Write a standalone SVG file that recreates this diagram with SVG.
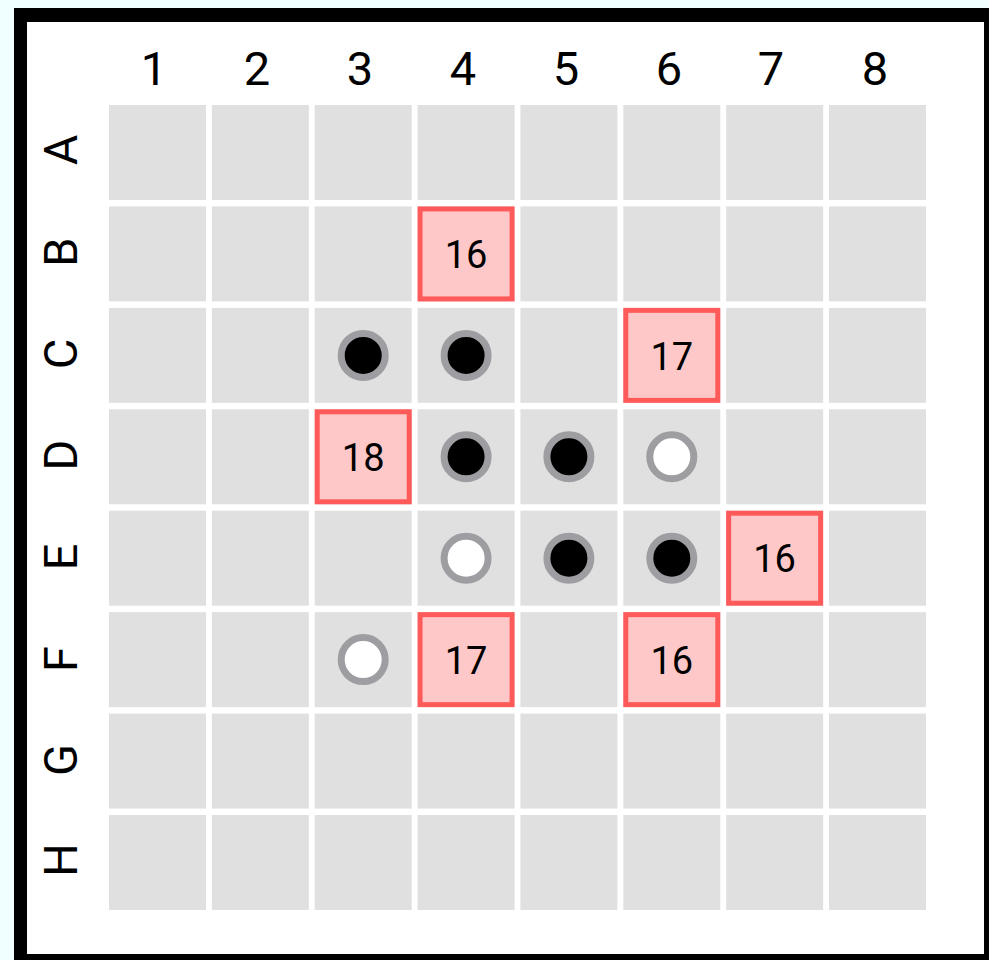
<svg xmlns="http://www.w3.org/2000/svg" width="989" height="960" viewBox="0 0 989 960">
<style>
.cell{fill:#e0e0e0}
.hit{fill:#ffc8c8;stroke:#ff5a5a;stroke-width:5}
.lbl{font-family:Roboto,"Liberation Sans",sans-serif;font-size:47px;fill:#000;text-anchor:middle;dominant-baseline:central}
.num{font-family:Roboto,"Liberation Sans",sans-serif;font-size:38px;fill:#000;text-anchor:middle;dominant-baseline:central}
.blk{fill:#000;stroke:#9e9ea2;stroke-width:7}
.wht{fill:#fff;stroke:#9e9ea2;stroke-width:7}
</style>
<rect x="0" y="0" width="989" height="960" fill="#f0ffff"/>
<rect x="14" y="8" width="975" height="952" fill="#000"/>
<rect x="27" y="22" width="957" height="932" fill="#fff"/>
<g id="col-labels">
<text class="lbl" x="154" y="68">1</text>
<text class="lbl" x="257" y="68">2</text>
<text class="lbl" x="360" y="68">3</text>
<text class="lbl" x="463" y="68">4</text>
<text class="lbl" x="566" y="68">5</text>
<text class="lbl" x="669" y="68">6</text>
<text class="lbl" x="771" y="68">7</text>
<text class="lbl" x="875" y="68">8</text>
</g>
<g id="row-labels">
<text class="lbl" transform="translate(60,150) rotate(-90)">A</text>
<text class="lbl" transform="translate(60,252) rotate(-90)">B</text>
<text class="lbl" transform="translate(60,354) rotate(-90)">C</text>
<text class="lbl" transform="translate(60,455) rotate(-90)">D</text>
<text class="lbl" transform="translate(60,557) rotate(-90)">E</text>
<text class="lbl" transform="translate(60,659) rotate(-90)">F</text>
<text class="lbl" transform="translate(60,760) rotate(-90)">G</text>
<text class="lbl" transform="translate(60,860) rotate(-90)">H</text>
</g>
<g id="grid">
<rect class="cell" x="109" y="105" width="97" height="95"/><rect class="cell" x="211.86" y="105" width="97" height="95"/><rect class="cell" x="314.71" y="105" width="97" height="95"/><rect class="cell" x="417.57" y="105" width="97" height="95"/><rect class="cell" x="520.43" y="105" width="97" height="95"/><rect class="cell" x="623.29" y="105" width="97" height="95"/><rect class="cell" x="726.14" y="105" width="97" height="95"/><rect class="cell" x="829" y="105" width="97" height="95"/>
<rect class="cell" x="109" y="206.43" width="97" height="95"/><rect class="cell" x="211.86" y="206.43" width="97" height="95"/><rect class="cell" x="314.71" y="206.43" width="97" height="95"/><rect class="cell" x="417.57" y="206.43" width="97" height="95"/><rect class="cell" x="520.43" y="206.43" width="97" height="95"/><rect class="cell" x="623.29" y="206.43" width="97" height="95"/><rect class="cell" x="726.14" y="206.43" width="97" height="95"/><rect class="cell" x="829" y="206.43" width="97" height="95"/>
<rect class="cell" x="109" y="307.86" width="97" height="95"/><rect class="cell" x="211.86" y="307.86" width="97" height="95"/><rect class="cell" x="314.71" y="307.86" width="97" height="95"/><rect class="cell" x="417.57" y="307.86" width="97" height="95"/><rect class="cell" x="520.43" y="307.86" width="97" height="95"/><rect class="cell" x="623.29" y="307.86" width="97" height="95"/><rect class="cell" x="726.14" y="307.86" width="97" height="95"/><rect class="cell" x="829" y="307.86" width="97" height="95"/>
<rect class="cell" x="109" y="409.29" width="97" height="95"/><rect class="cell" x="211.86" y="409.29" width="97" height="95"/><rect class="cell" x="314.71" y="409.29" width="97" height="95"/><rect class="cell" x="417.57" y="409.29" width="97" height="95"/><rect class="cell" x="520.43" y="409.29" width="97" height="95"/><rect class="cell" x="623.29" y="409.29" width="97" height="95"/><rect class="cell" x="726.14" y="409.29" width="97" height="95"/><rect class="cell" x="829" y="409.29" width="97" height="95"/>
<rect class="cell" x="109" y="510.71" width="97" height="95"/><rect class="cell" x="211.86" y="510.71" width="97" height="95"/><rect class="cell" x="314.71" y="510.71" width="97" height="95"/><rect class="cell" x="417.57" y="510.71" width="97" height="95"/><rect class="cell" x="520.43" y="510.71" width="97" height="95"/><rect class="cell" x="623.29" y="510.71" width="97" height="95"/><rect class="cell" x="726.14" y="510.71" width="97" height="95"/><rect class="cell" x="829" y="510.71" width="97" height="95"/>
<rect class="cell" x="109" y="612.14" width="97" height="95"/><rect class="cell" x="211.86" y="612.14" width="97" height="95"/><rect class="cell" x="314.71" y="612.14" width="97" height="95"/><rect class="cell" x="417.57" y="612.14" width="97" height="95"/><rect class="cell" x="520.43" y="612.14" width="97" height="95"/><rect class="cell" x="623.29" y="612.14" width="97" height="95"/><rect class="cell" x="726.14" y="612.14" width="97" height="95"/><rect class="cell" x="829" y="612.14" width="97" height="95"/>
<rect class="cell" x="109" y="713.57" width="97" height="95"/><rect class="cell" x="211.86" y="713.57" width="97" height="95"/><rect class="cell" x="314.71" y="713.57" width="97" height="95"/><rect class="cell" x="417.57" y="713.57" width="97" height="95"/><rect class="cell" x="520.43" y="713.57" width="97" height="95"/><rect class="cell" x="623.29" y="713.57" width="97" height="95"/><rect class="cell" x="726.14" y="713.57" width="97" height="95"/><rect class="cell" x="829" y="713.57" width="97" height="95"/>
<rect class="cell" x="109" y="815" width="97" height="95"/><rect class="cell" x="211.86" y="815" width="97" height="95"/><rect class="cell" x="314.71" y="815" width="97" height="95"/><rect class="cell" x="417.57" y="815" width="97" height="95"/><rect class="cell" x="520.43" y="815" width="97" height="95"/><rect class="cell" x="623.29" y="815" width="97" height="95"/><rect class="cell" x="726.14" y="815" width="97" height="95"/><rect class="cell" x="829" y="815" width="97" height="95"/>
</g>
<g id="B4"><rect class="hit" x="420.07" y="208.93" width="92" height="90"/><text class="num" x="466.1" y="255">16</text></g>
<g id="C6"><rect class="hit" x="625.79" y="310.36" width="92" height="90"/><text class="num" x="671.8" y="356.5">17</text></g>
<g id="D3"><rect class="hit" x="317.21" y="411.79" width="92" height="90"/><text class="num" x="363.2" y="458">18</text></g>
<g id="E7"><rect class="hit" x="728.64" y="513.21" width="92" height="90"/><text class="num" x="774.6" y="559.3">16</text></g>
<g id="F4"><rect class="hit" x="420.07" y="614.64" width="92" height="90"/><text class="num" x="466.1" y="660.7">17</text></g>
<g id="F6"><rect class="hit" x="625.79" y="614.64" width="92" height="90"/><text class="num" x="671.8" y="660.7">16</text></g>
<g id="stones">
<circle class="blk" cx="363.2" cy="355.4" r="22"/>
<circle class="blk" cx="466.1" cy="355.4" r="22"/>
<circle class="blk" cx="466.1" cy="456.8" r="22"/>
<circle class="blk" cx="568.9" cy="456.8" r="22"/>
<circle class="wht" cx="671.8" cy="456.8" r="22"/>
<circle class="wht" cx="466.1" cy="558.2" r="22"/>
<circle class="blk" cx="568.9" cy="558.2" r="22"/>
<circle class="blk" cx="671.8" cy="558.2" r="22"/>
<circle class="wht" cx="363.2" cy="659.6" r="22"/>
</g>
</svg>
